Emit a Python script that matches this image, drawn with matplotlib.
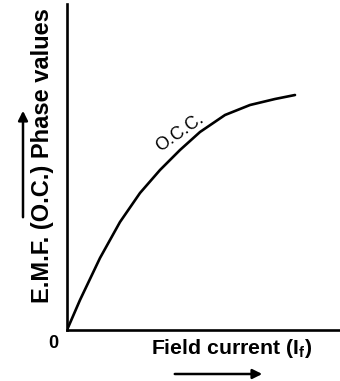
import matplotlib.pyplot as plt

# open circuit characteristic
field_current = [0, 13, 33, 53, 73, 93, 113, 133, 158, 183, 208, 228]
emf = [0, 30, 72, 108, 137, 160, 180, 198, 215, 225, 231, 235]

plt.rcParams['font.family'] = ['Liberation Sans', 'DejaVu Sans']

fig = plt.figure(figsize=(3.4, 3.81), dpi=100)
ax = fig.add_axes([67/340, 51/381, 273/340, 326/381])
ax.plot(field_current, emf, color='black', lw=1.9, solid_capstyle='round',
        solid_joinstyle='round')
ax.set_xlim(0, 273)
ax.set_ylim(0, 326)
ax.set_xticks([])
ax.set_yticks([])
for side in ['top', 'right']:
    ax.spines[side].set_visible(False)
for side in ['left', 'bottom']:
    ax.spines[side].set_linewidth(1.9)

fig.text(180/340, 1 - 133/381, 'O.C.C.', rotation=35, fontsize=13,
         ha='center', va='center')

fig.text(43/340, 1 - 156/381, 'E.M.F. (O.C.) Phase values', rotation=90,
         fontsize=17, fontweight='bold', ha='center', va='center')
fig.text(53/340, 1 - 343/381, '0', fontsize=13, fontweight='bold', ha='center', va='center')
fig.text(232/340, 1 - 349/381, r'Field current (I$_\mathregular{f}$)', fontsize=15.3,
         fontweight='bold', ha='center', va='center')

fig.add_artist(plt.Annotation('', xy=(23/340, 1 - 108/381), xytext=(23/340, 1 - 220/381),
                              xycoords='figure fraction',
                              arrowprops=dict(arrowstyle='-|>', lw=1.8, color='black',
                                              mutation_scale=14)))
fig.add_artist(plt.Annotation('', xy=(265/340, 1 - 374/381), xytext=(172/340, 1 - 374/381),
                              xycoords='figure fraction',
                              arrowprops=dict(arrowstyle='-|>', lw=1.8, color='black',
                                              mutation_scale=14)))

fig.savefig('out.png', dpi=100)
